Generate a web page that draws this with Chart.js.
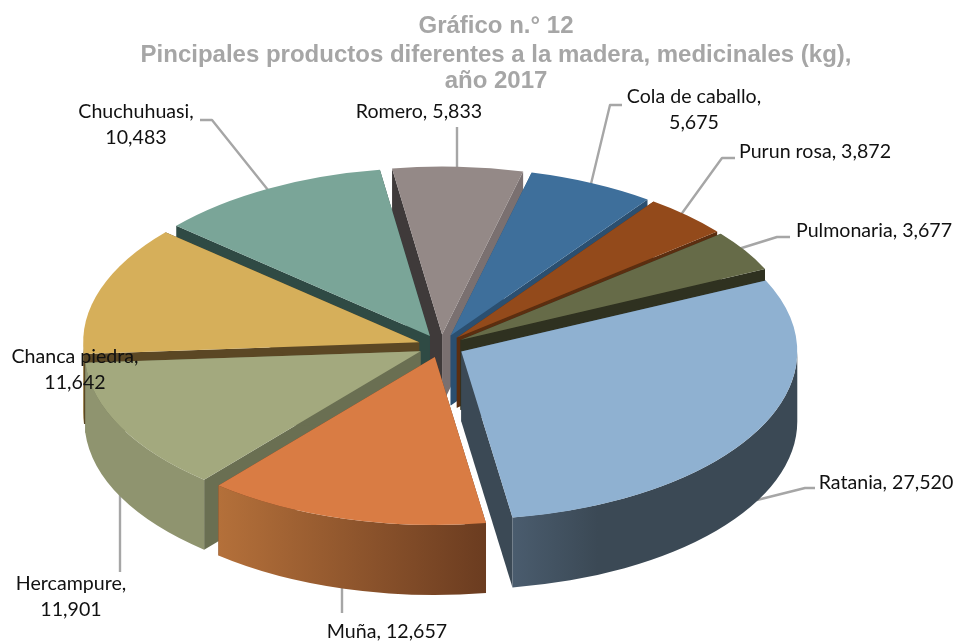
<!DOCTYPE html>
<html><head><meta charset="utf-8">
<style>html,body{margin:0;padding:0;background:#fff}#w{position:relative;width:957px;height:643px}</style>
<script src="https://cdn.jsdelivr.net/npm/chart.js@4"></script>
</head><body><div id="w"><canvas id="c" width="957" height="643"></canvas></div>
<script>
const categories = ['Ratania','Muña','Hercampure','Chanca piedra','Chuchuhuasi','Romero','Cola de caballo','Purun rosa','Pulmonaria'];
const values = [27520,12657,11901,11642,10483,5833,5675,3872,3677];
const titleLines = ['Gráfico n.° 12','Pincipales productos diferentes a la madera, medicinales (kg),','año 2017'];
const topColors = ['#8FB1D1','#D97C44','#A3A97E','#D6AF5A','#7AA598','#948987','#3E6F9B','#934A1B','#666B48'];
const wallLeft  = ['#4A5C6E','#B4703A','#8F946F','#8A6F33','#3F5F57','#5E5554','#2B4F70','#5B2E10','#2F3120'];
const wallRight = ['#3B4955','#6B3C20','#8F946F','#8A6F33','#3F5F57','#5E5554','#2B4F70','#5B2E10','#2F3120'];
const wallStop = [0.3,1,1,1,1,1,1,1,1];
const cutStart = ['#3B4955','#6B3C20','#6A6F52','#5B4724','#2F4A44','#3F3A3A','#2B4F70','#5B2E10','#2F3120'];
const cutEnd   = ['#3B4955','#6B3C20','#6A6F52','#5B4724','#2F4A44','#7A7070','#2B4F70','#5B2E10','#2F3120'];
const labelLines = [['Ratania, 27,520'],['Muña, 12,657'],['Hercampure,','11,901'],['Chanca piedra,','11,642'],['Chuchuhuasi,','10,483'],['Romero, 5,833'],['Cola de caballo,','5,675'],['Purun rosa, 3,872'],['Pulmonaria, 3,677']];
const labelX = [886,387,71,75,136,419,694,815,874];
const labelY = [483,632,584,357,112,112,97,152,231];
const leaderPaths = [[[757,500],[805,488],[815,488]],[[342,585],[342,613]],[[120,490],[120,572]],null,[[268,190],[212,120],[200,120]],[[457,172],[457,127]],[[590,188],[610,105],[622,105]],[[680,216],[722,158],[735,158]],[[732,251],[777,237],[790,237]]];
const tilt = 0.5, depth = 70, explode = 23;

function geom(a){
  const mid=(a.startAngle+a.endAngle)/2;
  return {x:a.x+Math.cos(mid)*explode, y:a.y, ey:Math.sin(mid)*explode*tilt, mid};
}
const pie3d = {
  id:'pie3d',
  beforeDatasetDraw(chart,args){
    const ctx=chart.ctx, arcs=chart.getDatasetMeta(0).data;
    const cy=arcs[0].y;
    const pt=(a,g,t,d)=>[g.x+Math.cos(t)*a.outerRadius, cy+g.ey+Math.sin(t)*a.outerRadius*tilt+d];
    // leader lines lie behind the pie
    ctx.save();ctx.strokeStyle='#A6A6A6';ctx.lineWidth=2.4;ctx.lineJoin='round';
    arcs.forEach((a,i)=>{
      const path=leaderPaths[i]; if(!path) return;
      ctx.beginPath();ctx.moveTo(path[0][0],path[0][1]);path.slice(1).forEach(q=>ctx.lineTo(q[0],q[1]));ctx.stroke();
    });
    ctx.restore();
    // side faces, back to front
    const order=arcs.map((a,i)=>i).sort((m,n)=>Math.sin(geom(arcs[m]).mid)-Math.sin(geom(arcs[n]).mid));
    order.forEach(i=>{
      const a=arcs[i], g=geom(a), ax=g.x, ay=cy+g.ey;
      const face=(t,col)=>{
        const p=pt(a,g,t,0);
        ctx.fillStyle=col;ctx.beginPath();ctx.moveTo(ax,ay);ctx.lineTo(p[0],p[1]);ctx.lineTo(p[0],p[1]+depth);ctx.lineTo(ax,ay+depth);ctx.closePath();ctx.fill();
      };
      face(a.startAngle,cutStart[i]);
      face(a.endAngle,cutEnd[i]);
      const lo=Math.max(a.startAngle,0), hi=Math.min(a.endAngle,Math.PI);
      if(hi>lo){
        const xs=pt(a,g,lo,0)[0], xe=pt(a,g,hi,0)[0];
        const gr=ctx.createLinearGradient(Math.min(xs,xe),0,Math.max(xs,xe),0);
        gr.addColorStop(0,wallLeft[i]);gr.addColorStop(wallStop[i],wallRight[i]);if(wallStop[i]<1)gr.addColorStop(1,wallRight[i]);
        ctx.fillStyle=gr;ctx.beginPath();
        ctx.ellipse(g.x,ay,a.outerRadius,a.outerRadius*tilt,0,lo,hi);
        ctx.ellipse(g.x,ay+depth,a.outerRadius,a.outerRadius*tilt,0,hi,lo,true);
        ctx.closePath();ctx.fill();
      }
    });
    // top faces through the library's own arc elements
    arcs.forEach((a,i)=>{
      const g=geom(a);
      ctx.save();
      ctx.translate(g.x-a.x,cy+g.ey);ctx.scale(1,tilt);ctx.translate(0,-cy);
      a.draw(ctx);
      ctx.restore();
    });
    return false;
  },
  afterDatasetsDraw(chart){
    const ctx=chart.ctx;
    ctx.save();ctx.textAlign='center';ctx.textBaseline='middle';
    ctx.font='bold 24px "Liberation Sans"';ctx.fillStyle='#A6A6A6';
    titleLines.forEach((t,i)=>ctx.fillText(t,496,[26,55,81][i]));
    ctx.font='19.6px Lato';ctx.fillStyle='#111';
    labelLines.forEach((ls,i)=>ls.forEach((t,j)=>ctx.fillText(t,labelX[i],labelY[i]+j*25.5)));
    ctx.restore();
  }
};
new Chart(document.getElementById('c'),{
  type:'pie',
  data:{labels:categories,datasets:[{data:values,backgroundColor:topColors,borderWidth:0,hoverOffset:0}]},
  options:{responsive:false,animation:false,rotation:65,radius:336,
    layout:{padding:{left:0,right:75,top:49,bottom:0}},
    events:[],
    plugins:{legend:{display:false},tooltip:{enabled:false}}},
  plugins:[pie3d]
});
</script></body></html>
